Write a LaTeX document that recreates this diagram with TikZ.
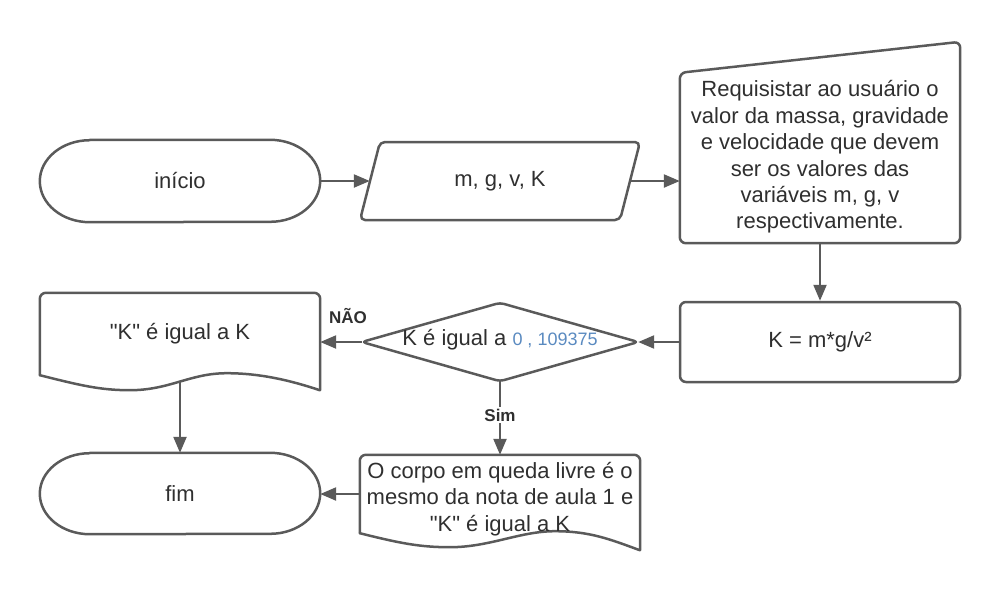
\documentclass[tikz,border=0pt]{standalone}
\usepackage{fontspec}
\setmainfont{Liberation Sans}
\usetikzlibrary{arrows.meta,calc,shapes.geometric}
\definecolor{ln}{HTML}{5A5A5A}
\definecolor{tx}{HTML}{2F2F2F}
\definecolor{num}{HTML}{5A8AC0}
\tikzset{
  outline/.style={draw=ln, line width=2.5pt, line join=round, line cap=round},
  txt/.style={text=tx, font=\fontsize{22}{26.4}\selectfont, align=center, inner sep=0pt},
  area/.style={minimum width=280pt, inner sep=0pt},
  conn/.style={draw=ln, line width=2.3pt, -{Triangle[length=16pt,width=13pt]}},
  lbl/.style={text=tx, font=\bfseries\fontsize{17}{19}\selectfont, inner sep=2pt},
}
\begin{document}
\begin{tikzpicture}[x=1pt,y=-1pt]
\useasboundingbox (0,0) rectangle (1000,590);

% start terminator
\node[txt, area, minimum height=82pt] (start) at (180,181) {início};
\draw[outline] ($(start.north west)+(50,0)$) -- ($(start.north east)+(-50,0)$)
  arc[start angle=-90, end angle=90, x radius=50, y radius=41]
  -- ($(start.south west)+(50,0)$)
  arc[start angle=90, end angle=270, x radius=50, y radius=41] -- cycle;

% input parallelogram
\node[txt, minimum width=260pt, minimum height=78pt] (io) at (500,181) {m, g, v, K};
\draw[outline, rounded corners=5pt] (380,142) -- (640,142) -- (620,220) -- (360,220) -- cycle;

% manual input
\node[area, minimum height=201pt] (ask) at (820,142.5) {};
\draw[outline, rounded corners=6pt] (ask.south west) -- ($(ask.north west)+(0,31)$)
  -- (ask.north east) -- (ask.south east) -- cycle;
\node[txt] (asktxt) at (820,157) {Requisistar ao usuário o\\valor da massa, gravidade\\e velocidade que devem\\ser os valores das\\variáveis m, g, v\\respectivamente.};

% process
\node[txt, area, minimum height=80pt, draw=ln, line width=2.5pt, rounded corners=6pt] (kbox) at (820,342) {K = m*g/v²};

% decision
\node[diamond, minimum width=276pt, minimum height=78pt, inner sep=0pt] (dec) at (500,342) {};
\draw[outline, rounded corners=4pt] (dec.north) -- (dec.east) -- (dec.south) -- (dec.west) -- cycle;
\node[txt] (dectxt) at (500,340) {K é igual a {\color{num}\fontsize{18}{20}\selectfont 0 , 109375}};

% document "K" é igual a K
\node[txt, area, minimum height=82pt] (docK) at (180,334) {\textquotedbl K\textquotedbl{} é igual a K};
\draw[outline, rounded corners=6pt] (docK.south west) -- (docK.north west) -- (docK.north east) -- ($(docK.south east)+(0,15)$);
\begin{scope}[shift={(docK.south west)}]
  \draw[outline] (0,0) .. controls (40,10) and (60,15) .. (90,15)
    .. controls (130,15) and (150,-2) .. (187,-2)
    .. controls (220,-2) and (250,5) .. (280,15);
\end{scope}

% end terminator
\node[txt, area, minimum height=81pt] (fim) at (180,493.5) {fim};
\draw[outline] ($(fim.north west)+(50,0)$) -- ($(fim.north east)+(-50,0)$)
  arc[start angle=-90, end angle=90, x radius=50, y radius=40.5]
  -- ($(fim.south west)+(50,0)$)
  arc[start angle=90, end angle=270, x radius=50, y radius=40.5] -- cycle;

% document O corpo ...
\node[area, minimum height=78pt] (doc2) at (500,494) {};
\draw[outline, rounded corners=6pt] (doc2.south west) -- (doc2.north west) -- (doc2.north east) -- ($(doc2.south east)+(0,17)$);
\begin{scope}[shift={(doc2.south west)}]
  \draw[outline] (0,0) .. controls (40,10) and (60,14) .. (90,14)
    .. controls (130,14) and (160,-2) .. (195,-2)
    .. controls (230,-2) and (250,6) .. (280,17);
\end{scope}
\node[txt] (doc2txt) at (500,499) {O corpo em queda livre é o\\mesmo da nota de aula 1 e\\\textquotedbl K\textquotedbl{} é igual a K};

% connectors
\draw[conn] (start.east) -- (io.west);
\draw[conn] (io.east) -- (io.east -| ask.west);
\draw[conn] (ask.south) -- (kbox.north);
\draw[conn] (kbox.west) -- (kbox.west -| dec.east);
\draw[conn] (dec.west) -- node[lbl, pos=0.33, above=15pt] {NÃO} (dec.west -| docK.east);
\draw[conn] (dec.south) -- node[lbl, fill=white, pos=0.46] {Sim} (doc2.north);
\draw[conn] ($(docK.south)+(0,7)$) -- (fim.north);
\draw[conn] (doc2.west) -- (doc2.west -| fim.east);
\end{tikzpicture}
\end{document}
